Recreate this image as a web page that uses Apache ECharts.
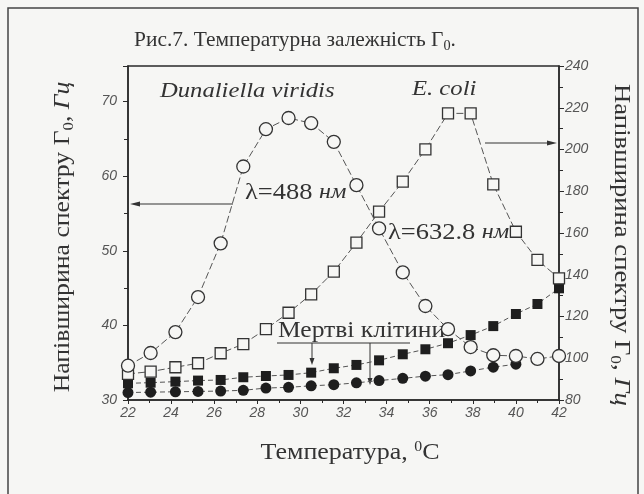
<!DOCTYPE html>
<html>
<head>
<meta charset="utf-8">
<script src="https://cdn.jsdelivr.net/npm/echarts@6/dist/echarts.min.js"></script>
<style>
html,body{margin:0;padding:0;background:#f6f6f4;}
#chart{width:644px;height:494px;}
</style>
</head>
<body>
<div id="chart"></div>
<script>
// Temperature positions of the measured points (°C)
const temps = [22, 23.05, 24.2, 25.25, 26.3, 27.35, 28.4, 29.45, 30.5, 31.55, 32.6, 33.65, 34.75, 35.8, 36.85, 37.9, 38.95, 40, 41, 42];
// Dunaliella viridis, λ=488 nm (left axis)
const dunaliella = [34.6, 36.3, 39.1, 43.8, 51.0, 61.3, 66.3, 67.8, 67.1, 64.6, 58.8, 53.0, 47.1, 42.6, 39.5, 37.1, 36.0, 35.9, 35.5, 35.9];
// E. coli, λ=632.8 nm (right axis)
const ecoli = [92.5, 93.6, 95.7, 97.6, 102.4, 106.8, 114.0, 121.8, 130.6, 141.5, 155.4, 170.2, 184.6, 200.1, 217.3, 217.3, 183.3, 160.6, 147.1, 138.3];
// Dead cells, E. coli (right axis)
const ecoliDead = [88.0, 88.3, 88.8, 89.3, 89.6, 90.9, 91.5, 92.0, 93.1, 95.2, 96.8, 99.0, 101.9, 104.3, 107.2, 111.1, 115.4, 121.2, 126.0, 133.5];
// Dead cells, Dunaliella (left axis)
const dunaliellaDead = [31.0, 31.05, 31.1, 31.15, 31.2, 31.3, 31.6, 31.7, 31.9, 32.05, 32.3, 32.6, 32.9, 33.2, 33.4, 33.9, 34.4, 34.8];

const xTicks = [22, 24, 26, 28, 30, 32, 34, 36, 38, 40, 42];
const leftTicks = [30, 40, 50, 60, 70];
const rightTicks = [80, 100, 120, 140, 160, 180, 200, 220, 240];

function pairs(xs, ys){ return ys.map((v,i)=>[xs[i], v]); }

const ink = '#2a2a2a';
const txt = '#333';
const serif = '"Liberation Serif", "DejaVu Serif", serif';
const tickFont = {fontFamily:'"Liberation Sans Narrow","Liberation Sans",sans-serif', fontStyle:'italic', fontSize:14, color:'#555'};

const chart = echarts.init(document.getElementById('chart'));
const dashed = {width:1, color:'#555', type:[5,3]};

const axisTitleRich = {a:{fontFamily:serif, fontSize:23, fill:txt}, s:{fontFamily:serif, fontSize:15, fill:txt, padding:[13,0,0,0]}, i:{fontFamily:serif, fontStyle:'italic', fontSize:23, fill:txt}};

const option = {
  backgroundColor:'#f6f6f4',
  animation:false,
  grid:{left:128, right:85, top:66, bottom:94, show:true, borderColor:ink, borderWidth:1.5, backgroundColor:'transparent'},
  xAxis:{type:'value', min:22, max:42, interval:2,
    axisLine:{show:true, lineStyle:{color:ink, width:1.5}},
    axisTick:{show:true, length:4, lineStyle:{color:ink}},
    minorTick:{show:true, splitNumber:2, length:3, lineStyle:{color:ink}},
    splitLine:{show:false},
    axisLabel:Object.assign({margin:6, formatter:v=>xTicks.includes(v)?String(v):''}, tickFont)},
  yAxis:[
    {type:'value', position:'left', min:30, max:74.77, interval:10,
      axisLine:{show:true, lineStyle:{color:ink, width:1.5}},
      axisTick:{show:true, length:5, lineStyle:{color:ink}},
      minorTick:{show:true, splitNumber:2, length:4, lineStyle:{color:ink}},
      splitLine:{show:false},
      axisLabel:Object.assign({margin:11, showMaxLabel:false, formatter:v=>leftTicks.includes(v)?String(v):''}, tickFont)},
    {type:'value', position:'right', min:80, max:240, interval:20,
      axisLine:{show:true, lineStyle:{color:ink, width:1.5}},
      axisTick:{show:true, length:5, lineStyle:{color:ink}},
      minorTick:{show:true, splitNumber:2, length:4, lineStyle:{color:ink}},
      splitLine:{show:false},
      axisLabel:Object.assign({margin:6, formatter:v=>rightTicks.includes(v)?String(v):''}, tickFont)}
  ],
  series:[
    {name:'Dunaliella dead', type:'line', yAxisIndex:0, data:pairs(temps, dunaliellaDead), symbol:'circle', symbolSize:11,
      itemStyle:{color:'#1e1e1e'}, lineStyle:dashed, z:2},
    {name:'E. coli dead', type:'line', yAxisIndex:1, data:pairs(temps, ecoliDead), symbol:'rect', symbolSize:10,
      itemStyle:{color:'#1e1e1e'}, lineStyle:dashed, z:2},
    {name:'E. coli', type:'line', yAxisIndex:1, data:pairs(temps, ecoli), symbol:'rect', symbolSize:11,
      itemStyle:{color:'#f6f6f4', borderColor:'#333', borderWidth:1.3}, lineStyle:{width:1, color:'#555', type:[7,3]}, z:3},
    {name:'Dunaliella', type:'line', yAxisIndex:0, data:pairs(temps, dunaliella), symbol:'circle', symbolSize:13,
      itemStyle:{color:'#f6f6f4', borderColor:'#333', borderWidth:1.3}, lineStyle:{width:1, color:'#555', type:[7,3]}, z:4}
  ],
  graphic:[
    {type:'rect', shape:{x:8, y:8, width:630, height:490}, style:{fill:'none', stroke:'#444', lineWidth:1.5}, silent:true},
    {type:'text', x:295, y:40, scaleX:1.02, style:{text:'{a|Рис.7. Температурна залежність Γ}{s|0}{a|.}', align:'center', verticalAlign:'middle',
      rich:{a:{fontFamily:serif, fontSize:21, fill:txt}, s:{fontFamily:serif, fontSize:14, fill:txt, padding:[12,0,0,0]}}}},
    {type:'text', x:160, y:80, scaleX:1.12, style:{text:'Dunaliella viridis', font:'italic 22px '+serif, fill:txt}},
    {type:'text', x:412, y:78, scaleX:1.12, style:{text:'E. coli', font:'italic 22px '+serif, fill:txt}},
    {type:'text', x:245, y:181, scaleX:1.15, style:{text:'{a|λ=488 }{b|нм}', rich:{a:{fontFamily:serif, fontSize:23, fill:txt}, b:{fontFamily:serif, fontStyle:'italic', fontSize:21, fill:txt}}}},
    {type:'text', x:388, y:221, scaleX:1.15, style:{text:'{a|λ=632.8 }{b|нм}', rich:{a:{fontFamily:serif, fontSize:23, fill:txt}, b:{fontFamily:serif, fontStyle:'italic', fontSize:21, fill:txt}}}},
    {type:'text', x:278, y:319, scaleX:1.11, style:{text:'Мертві клітини', font:'23px '+serif, fill:txt}},
    {type:'line', shape:{x1:277, y1:343, x2:410, y2:343}, style:{stroke:'#333', lineWidth:1}},
    {type:'line', shape:{x1:312, y1:343, x2:312, y2:360}, style:{stroke:'#333', lineWidth:1}},
    {type:'polygon', shape:{points:[[312,365],[309.5,358],[314.5,358]]}, style:{fill:'#333'}},
    {type:'line', shape:{x1:370, y1:343, x2:370, y2:380}, style:{stroke:'#333', lineWidth:1}},
    {type:'polygon', shape:{points:[[370,385],[367.5,378],[372.5,378]]}, style:{fill:'#333'}},
    {type:'line', shape:{x1:233, y1:204, x2:136, y2:204}, style:{stroke:'#333', lineWidth:1}},
    {type:'polygon', shape:{points:[[130,204],[140,201.5],[140,206.5]]}, style:{fill:'#333'}},
    {type:'line', shape:{x1:485, y1:143, x2:550, y2:143}, style:{stroke:'#333', lineWidth:1}},
    {type:'polygon', shape:{points:[[557,143],[547,140.5],[547,145.5]]}, style:{fill:'#333'}},
    {type:'text', x:63, y:237, rotation:Math.PI/2, scaleX:1.12, style:{text:'{a|Напівширина спектру Γ}{s|0}{a|, }{i|Гц}', align:'center', verticalAlign:'middle', rich:axisTitleRich}},
    {type:'text', x:621, y:245, rotation:-Math.PI/2, scaleX:1.16, style:{text:'{a|Напівширина спектру Γ}{s|0}{a|, }{i|Гц}', align:'center', verticalAlign:'middle', rich:axisTitleRich}},
    {type:'text', x:350, y:453, scaleX:1.13, style:{text:'{a|Температура, }{s|0}{a|C}', align:'center', verticalAlign:'middle',
      rich:{a:{fontFamily:serif, fontSize:23, fill:txt}, s:{fontFamily:serif, fontSize:14, fill:txt, padding:[0,0,12,0]}}}}
  ]
};
chart.setOption(option);
</script>
</body>
</html>
